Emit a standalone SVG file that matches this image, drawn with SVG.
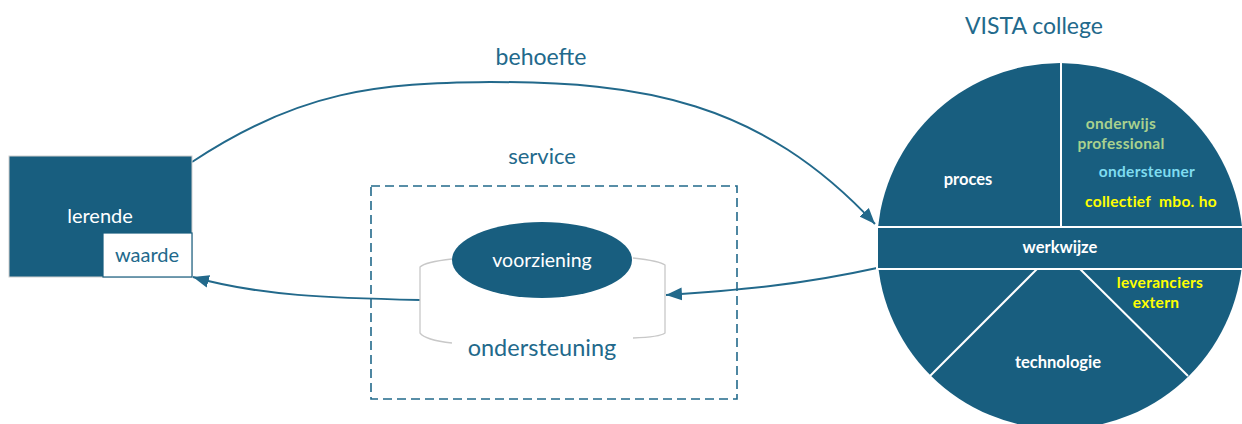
<svg xmlns="http://www.w3.org/2000/svg" width="1242" height="424" viewBox="0 0 1242 424">
<style>
.lbl{font-family:Lato,"Liberation Sans",sans-serif;fill:#22698b;text-anchor:middle}
.w{font-family:Lato,"Liberation Sans",sans-serif;fill:#ffffff;text-anchor:middle}
.b{font-weight:bold;font-size:16.5px;font-family:Lato,"Liberation Sans",sans-serif;text-anchor:middle}
.c{font-size:15.5px;letter-spacing:0.3px}
.conn{fill:none;stroke:#22698b;stroke-width:2}
.sep{stroke:#ffffff;stroke-width:2;fill:none}
</style>
<defs>
<marker id="ah2" viewBox="0 0 10 10" refX="10" refY="5" markerWidth="16" markerHeight="16" markerUnits="userSpaceOnUse" orient="auto">
<path d="M0,1 L10,5 L0,9 z" fill="#22698b"/>
</marker>
</defs>
<rect width="1242" height="424" fill="#ffffff"/>

<g id="connectors">
<path class="conn" d="M192,162 C300,90 380,83 490,82 C640,82 760,100 875,224" marker-end="url(#ah2)"/>
<path class="conn" d="M877,268 C800,285 740,290 666,295" marker-end="url(#ah2)"/>
<path class="conn" d="M420,300 C330,298 260,296 193,277" marker-end="url(#ah2)"/>
<text class="lbl" x="541" y="65" font-size="23">behoefte</text>
</g>

<g id="lerende">
<rect x="9" y="156" width="183" height="121" fill="#185e7f" stroke="#d0d0d0" stroke-width="1"/>
<text class="w" x="100" y="223" font-size="20">lerende</text>
</g>
<g id="waarde">
<rect x="103" y="233" width="89" height="44" fill="#ffffff" stroke="#185e7f" stroke-width="1.2"/>
<text class="lbl" x="147" y="262" font-size="20">waarde</text>
</g>

<g id="service">
<text class="lbl" x="542" y="164" font-size="22">service</text>
<rect x="371" y="186" width="366" height="213" fill="none" stroke="#22698b" stroke-width="1.6" stroke-dasharray="9,5"/>
<path d="M452,259 Q425,262 420,267 L420,333 Q425,340 452,343" fill="none" stroke="#c8c8c8" stroke-width="1.3"/>
<path d="M633,258 Q660,261 665,265 L665,333 Q660,337 633,338" fill="none" stroke="#c8c8c8" stroke-width="1.3"/>
<text class="lbl" x="542" y="356" font-size="23.5">ondersteuning</text>
</g>
<g id="voorziening">
<ellipse cx="542" cy="260" rx="90" ry="38" fill="#185e7f"/>
<text class="w" x="542" y="267" font-size="19.5">voorziening</text>
</g>

<g id="vista">
<text class="lbl" x="1034" y="34" font-size="23">VISTA college</text>
<circle cx="1060" cy="246" r="183" fill="#185e7f"/>
<line class="sep" x1="1061" y1="62" x2="1061" y2="227"/>
<rect x="877" y="227" width="366" height="42" fill="#185e7f" stroke="#ffffff" stroke-width="2"/>
<line class="sep" x1="1037" y1="269" x2="930" y2="376"/>
<line class="sep" x1="1080" y1="269" x2="1188" y2="376"/>
<text class="b" x="968" y="185" fill="#ffffff">proces</text>
<text class="b" x="1060" y="253" fill="#ffffff">werkwijze</text>
<text class="b" x="1058" y="368" fill="#ffffff">technologie</text>
<text class="b c" x="1121" y="129" fill="#a9d18e">onderwijs</text>
<text class="b c" x="1121" y="149" fill="#a9d18e">professional</text>
<text class="b c" x="1147" y="177" fill="#7fdcf0">ondersteuner</text>
<text class="b c" x="1151" y="207" fill="#ffff00" xml:space="preserve">collectief  mbo. ho</text>
<text class="b c" x="1160" y="288" fill="#ffff00">leveranciers</text>
<text class="b c" x="1156" y="308" fill="#ffff00">extern</text>
</g>
</svg>
